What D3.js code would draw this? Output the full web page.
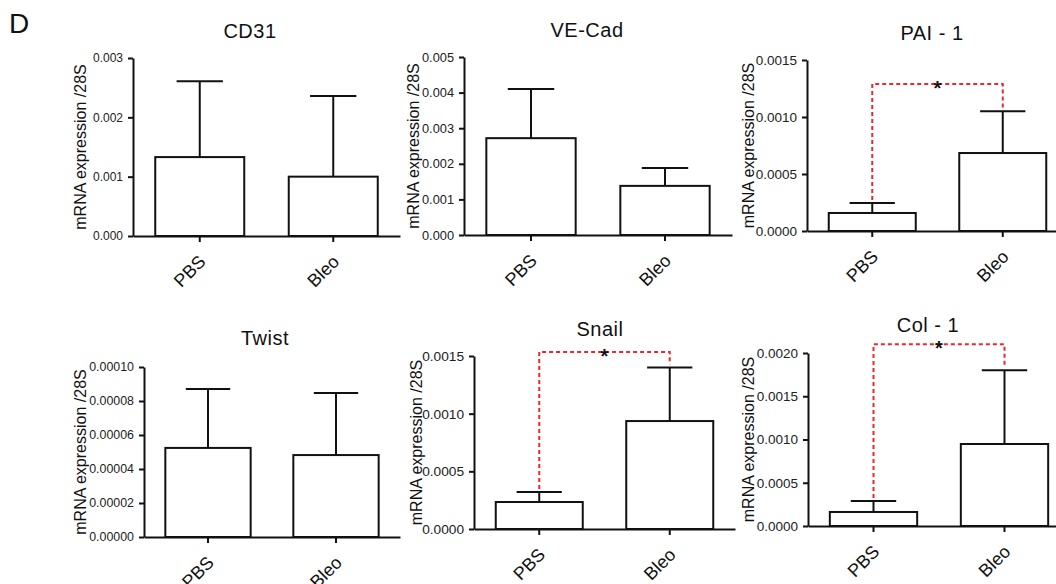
<!DOCTYPE html>
<html>
<head>
<meta charset="utf-8">
<script src="https://cdn.jsdelivr.net/npm/d3@7"></script>
<style>
  html, body { margin: 0; padding: 0; background: #fff; }
  svg { display: block; font-family: "Liberation Sans", Arial, Helvetica, sans-serif; }
</style>
</head>
<body>
<svg id="chart" width="1056" height="584"></svg>
<script>
// ---- data ----
const genes      = ["CD31", "VE-Cad", "PAI - 1", "Twist", "Snail", "Col - 1"];
const categories = ["PBS", "Bleo"];
const meanPBS    = [0.00133, 0.00272, 0.000158, 0.0000524, 0.000234, 0.000162];
const meanBleo   = [0.00100, 0.00138, 0.000684, 0.0000482, 0.000936, 0.000948];
const errPBS     = [0.00128, 0.00138, 0.000088, 0.0000346, 0.000086, 0.000127];
const errBleo    = [0.00136, 0.00050, 0.000366, 0.0000365, 0.000464, 0.000852];
const yMax       = [0.003, 0.005, 0.0015, 0.0001, 0.0015, 0.002];
const yStep      = [0.001, 0.001, 0.0005, 0.00002, 0.0005, 0.0005];
const yDecimals  = [3, 3, 4, 5, 4, 4];
const sigLevel   = [null, null, 0.00129, null, 0.001535, 0.0021];
const yAxisLabel = "mRNA expression /28S";
const panelLetter = "D";

// ---- layout (pixel positions of each panel) ----
const layout = [
  {ax:133, yt:58,  yb:236, w:267, tx:250, ty:38,  lx:86,  tf:12},
  {ax:464, yt:57,  yb:235, w:268, tx:587, ty:37,  lx:419, tf:12.8},
  {ax:807, yt:60,  yb:231, w:261, tx:932, ty:40,  lx:754, tf:13.5},
  {ax:144, yt:367, yb:537, w:256, tx:265, ty:345, lx:86,  tf:12.4},
  {ax:474, yt:356, yb:529, w:261, tx:600, ty:336, lx:422, tf:13.7},
  {ax:808, yt:353, yb:526, w:262, tx:928, ty:332, lx:754, tf:13.5}
];

const svg = d3.select("#chart");
const font = '"Liberation Sans", Arial, Helvetica, sans-serif';

svg.append("text")
  .attr("x", 9).attr("y", 33)
  .attr("font-size", 28)
  .attr("fill", "#111")
  .text(panelLetter);

genes.forEach((gene, i) => {
  const L = layout[i];
  const g = svg.append("g");

  const x = d3.scaleBand()
    .domain(categories)
    .range([L.ax, L.ax + L.w])
    .paddingInner(1/3)
    .paddingOuter(1/6);

  const y = d3.scaleLinear()
    .domain([0, yMax[i]])
    .range([L.yb, L.yt]);

  const means = [meanPBS[i], meanBleo[i]];
  const errs  = [errPBS[i], errBleo[i]];
  const rows = categories.map((c, k) => ({cat: c, mean: means[k], err: errs[k]}));

  // error bars (upper only)
  const capW = x.bandwidth() * 0.52;
  rows.forEach(d => {
    const cx = x(d.cat) + x.bandwidth() / 2;
    g.append("line")
      .attr("x1", cx).attr("x2", cx)
      .attr("y1", y(d.mean)).attr("y2", y(d.mean + d.err))
      .attr("stroke", "#111").attr("stroke-width", 2);
    g.append("line")
      .attr("x1", cx - capW / 2).attr("x2", cx + capW / 2)
      .attr("y1", y(d.mean + d.err)).attr("y2", y(d.mean + d.err))
      .attr("stroke", "#111").attr("stroke-width", 2);
  });

  // bars
  g.selectAll("rect.bar").data(rows).enter().append("rect")
    .attr("class", "bar")
    .attr("x", d => x(d.cat))
    .attr("y", d => y(d.mean))
    .attr("width", x.bandwidth())
    .attr("height", d => y(0) - y(d.mean))
    .attr("fill", "#fff")
    .attr("stroke", "#111")
    .attr("stroke-width", 2);

  // y axis
  const yTicks = d3.range(0, yMax[i] + yStep[i] / 2, yStep[i]);
  const yAxis = d3.axisLeft(y)
    .tickValues(yTicks)
    .tickFormat(d3.format("." + yDecimals[i] + "f"))
    .tickSize(5)
    .tickSizeOuter(0)
    .tickPadding(5);
  const yg = g.append("g")
    .attr("transform", `translate(${L.ax},0)`)
    .call(yAxis);
  yg.select(".domain").attr("stroke", "#111").attr("stroke-width", 2);
  yg.selectAll(".tick line").attr("stroke", "#111").attr("stroke-width", 2);
  yg.selectAll(".tick text")
    .attr("font-family", font)
    .attr("font-size", L.tf)
    .attr("fill", "#222");

  // x axis
  const xAxis = d3.axisBottom(x).tickSize(6).tickSizeOuter(0);
  const xg = g.append("g")
    .attr("transform", `translate(0,${L.yb})`)
    .call(xAxis);
  xg.select(".domain").attr("stroke", "#111").attr("stroke-width", 2);
  xg.selectAll(".tick line").attr("stroke", "#111").attr("stroke-width", 2);
  xg.selectAll(".tick text")
    .attr("font-family", font)
    .attr("font-size", 18)
    .attr("fill", "#111")
    .attr("x", -14)
    .attr("y", 24)
    .attr("dy", 0)
    .attr("transform", "rotate(-45)")
    .style("text-anchor", "end");

  // title
  g.append("text")
    .attr("x", L.tx).attr("y", L.ty)
    .attr("text-anchor", "middle")
    .attr("font-size", 20)
    .attr("letter-spacing", 0.5)
    .attr("fill", "#111")
    .text(gene);

  // y label
  g.append("text")
    .attr("transform", `translate(${L.lx},${(L.yt + L.yb) / 2}) rotate(-90)`)
    .attr("text-anchor", "middle")
    .attr("font-size", 16)
    .attr("fill", "#111")
    .text(yAxisLabel);

  // significance bracket
  if (sigLevel[i] !== null) {
    const x1 = x(categories[0]) + x.bandwidth() / 2;
    const x2 = x(categories[1]) + x.bandwidth() / 2;
    const yb = y(sigLevel[i]);
    const e1 = y(rows[0].mean + rows[0].err) - 3;
    const e2 = y(rows[1].mean + rows[1].err) - 3;
    g.append("path")
      .attr("d", `M${x1},${e1}V${yb}H${x2}V${e2}`)
      .attr("fill", "none")
      .attr("stroke", "#f0262b")
      .attr("stroke-width", 2)
      .attr("stroke-dasharray", "4,3");
    g.append("text")
      .attr("x", (x1 + x2) / 2)
      .attr("y", yb + 11)
      .attr("text-anchor", "middle")
      .attr("font-size", 20)
      .attr("font-weight", "bold")
      .attr("fill", "#111")
      .text("*");
  }
});
</script>
</body>
</html>
